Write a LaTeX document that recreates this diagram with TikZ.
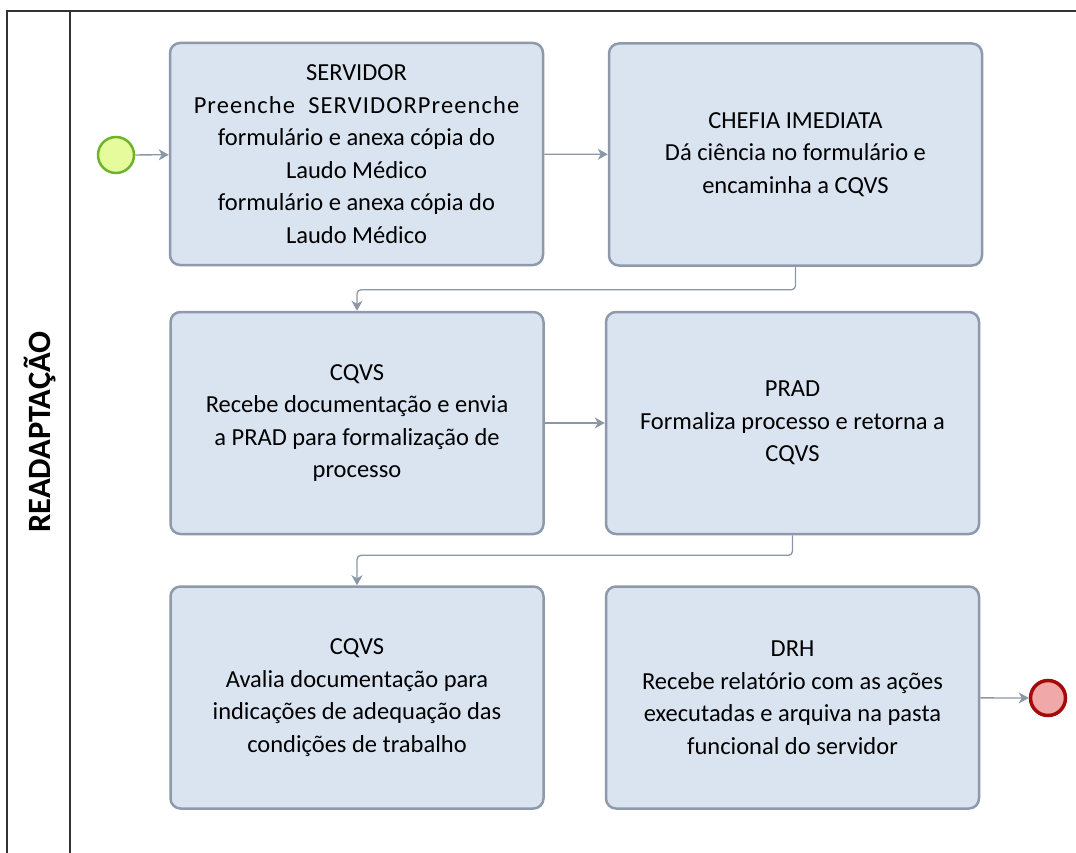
\documentclass[tikz,border=0pt]{standalone}
\usepackage{fontspec}
\setmainfont{Carlito}
\newfontfamily\spreadfont[LetterSpace=4.5]{Carlito}
\usetikzlibrary{arrows.meta}
\definecolor{taskfill}{HTML}{DAE4F0}
\definecolor{taskline}{HTML}{8E9AAB}
\definecolor{flowline}{HTML}{8B97A6}
\definecolor{startfill}{HTML}{E6FB9C}
\definecolor{startline}{HTML}{6EB42A}
\definecolor{endfill}{HTML}{F0A8A8}
\definecolor{endline}{HTML}{A50A0A}
\tikzset{
  task/.style={draw=taskline, fill=taskfill, line width=2.5pt, rounded corners=10pt,
    minimum width=373pt, minimum height=222pt, align=center,
    font=\fontsize{24.5}{32.5}\selectfont, inner sep=0pt},
  flow/.style={draw=flowline, line width=1.3pt, rounded corners=4pt,
    -{Stealth[length=10pt,width=11pt,inset=3pt]}},
  startev/.style={circle, draw=startline, fill=startfill, line width=2.5pt, minimum size=36pt, inner sep=0pt},
  endev/.style={circle, draw=endline, fill=endfill, line width=3.5pt, minimum size=35pt, inner sep=0pt}
}
\begin{document}
\begin{tikzpicture}[x=1pt, y=-1pt]
\useasboundingbox (0,0) rectangle (1076,853);
% pool and lane
\draw [color=black!80, line width=1.4pt] (7,853) -- (7,11) -- (1076,11);
\draw [color=black!80, line width=1.4pt] (70,11) -- (70,853);
\node [rotate=90, font=\fontsize{32.5}{36}\selectfont\bfseries] (lane) at (40,432) {READAPTAÇÃO};
% events and tasks
\node [startev] (start) at (116,155) {};
\node [task] (t1) at (356.5,154) {SERVIDOR\\{\spreadfont Preenche\ \ SERVIDORPreenche}\\formulário e anexa cópia do\\Laudo Médico\\formulário e anexa cópia do\\Laudo Médico};
\node [task] (t2) at (795.5,154.5) {CHEFIA IMEDIATA\\Dá ciência no formulário e\\encaminha a CQVS};
\node [task] (t3) at (357,423) {CQVS\\Recebe documentação e envia\\a PRAD para formalização de\\processo};
\node [task] (t4) at (792.5,423) {PRAD\\Formaliza processo e retorna a\\CQVS};
\node [task] (t5) at (357,697.5) {CQVS\\Avalia documentação para\\indicações de adequação das\\condições de trabalho};
\node [task] (t6) at (792.5,697.5) {DRH\\Recebe relatório com as ações\\executadas e arquiva na pasta\\funcional do servidor};
\node [endev] (end) at (1048,698) {};
% flows
\draw [flow] (start) -- (t1);
\draw [flow] (t1) -- (t2);
\draw [flow] (t2.south) -- ++(0,23) -| (t3.north);
\draw [flow] (t3) -- (t4);
\draw [flow] (t4.south) -- ++(0,20) -| (t5.north);
\draw [flow] (t6) -- (end);
\end{tikzpicture}
\end{document}
